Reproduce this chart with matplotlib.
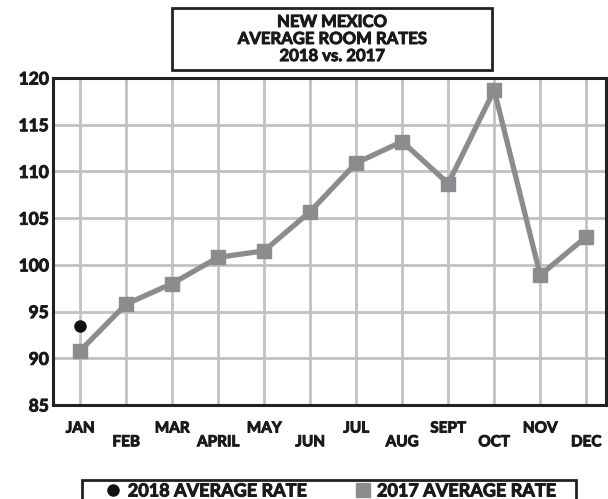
import matplotlib.pyplot as plt
import matplotlib.patheffects as pe
from matplotlib.lines import Line2D
from matplotlib.patches import Rectangle

months = ['JAN', 'FEB', 'MAR', 'APRIL', 'MAY', 'JUN', 'JUL', 'AUG', 'SEPT', 'OCT', 'NOV', 'DEC']
rate_2017 = [90.8, 95.8, 98.0, 100.8, 101.5, 105.7, 110.9, 113.2, 108.7, 118.7, 98.9, 103.0]
rate_2018 = [93.5]
yticks = [85, 90, 95, 100, 105, 110, 115, 120]

plt.rcParams['font.family'] = ['Lato', 'DejaVu Sans']
plt.rcParams['font.weight'] = 'bold'

ink = '#1a1a1a'
thick = [pe.withStroke(linewidth=0.7, foreground=ink)]

W, H = 608, 499
fig = plt.figure(figsize=(W / 100, H / 100), dpi=100)
ax = fig.add_axes([53 / W, 1 - 405 / H, (606 - 53) / W, (405 - 78) / H])

gray = '#8c8c8e'
x = list(range(len(months)))
ax.plot(x, rate_2017, color=gray, lw=3.8, marker='s', ms=9.5, zorder=3)
ax.plot(x[:len(rate_2018)], rate_2018, 'o', color='#111111', ms=8, zorder=4)

ax.set_xlim(-0.59, 11.43)
ax.set_ylim(85, 120)
ax.set_yticks(yticks)
ax.set_yticklabels([str(v) for v in yticks], fontsize=12.5, color=ink)
for t in ax.get_yticklabels():
    t.set_path_effects(thick)
ax.set_xticks(x)
ax.set_xticklabels([])
for i, m in enumerate(months):
    ax.text(i, -0.072 if i % 2 == 0 else -0.114, m, transform=ax.get_xaxis_transform(),
            ha='center', va='center', fontsize=11, color=ink, path_effects=thick)
ax.tick_params(length=0, pad=3)
ax.grid(True, color='#c2c2c4', lw=2)
ax.set_axisbelow(True)
for s in ax.spines.values():
    s.set_linewidth(2.2)
    s.set_color('#222222')

# title box
fig.add_artist(Rectangle((172 / W, 1 - 70 / H), 320 / W, 62 / H, transform=fig.transFigure,
                         fill=False, ec='#222222', lw=2))
fig.text(332 / W, 1 - 39 / H, 'NEW MEXICO\nAVERAGE ROOM RATES\n2018 vs. 2017', ha='center', va='center',
         fontsize=12, color=ink, linespacing=1.08, path_effects=thick)

# legend box
fig.add_artist(Rectangle((82 / W, -0.05), 494 / W, 0.05 + (499 - 480) / H, transform=fig.transFigure,
                         fill=False, ec='#222222', lw=2))
handles = [Line2D([], [], ls='none', marker='o', color='#111111', ms=8),
           Line2D([], [], ls='none', marker='s', color=gray, ms=9.5)]
leg = fig.legend(handles, ['2018 AVERAGE RATE', '2017 AVERAGE RATE'], loc='center',
                 bbox_to_anchor=(330 / W, 1 - 491 / H), ncol=2, frameon=False, handletextpad=0.3,
                 handlelength=1, columnspacing=2.6, borderpad=0, prop={'size': 13, 'weight': 'bold'})
for t in leg.get_texts():
    t.set_color(ink)
    t.set_path_effects(thick)

fig.savefig('out.png', dpi=100)
